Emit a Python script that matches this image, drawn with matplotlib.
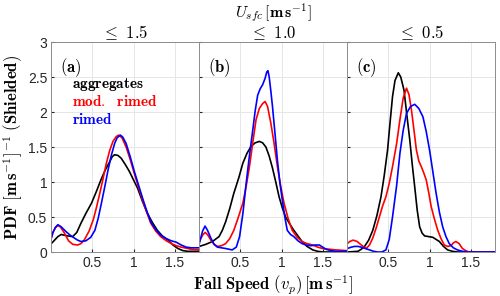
import numpy as np
import matplotlib
matplotlib.use('Agg')
import matplotlib.pyplot as plt

plt.rcParams['mathtext.fontset'] = 'cm'
plt.rcParams['font.family'] = 'Liberation Sans'

# panel (a)  U_sfc <= 1.5
a_agg_x = [0.0, 0.04, 0.08, 0.12, 0.16, 0.2, 0.26, 0.31, 0.36, 0.42, 0.49, 0.55, 0.61, 0.66, 0.71, 0.74, 0.77, 0.81, 0.85, 0.9, 0.95, 1.0, 1.05, 1.11, 1.17, 1.23, 1.29, 1.35, 1.42, 1.48, 1.54, 1.6, 1.66, 1.8]
a_agg_y = [0.12, 0.17, 0.22, 0.25, 0.24, 0.23, 0.22, 0.28, 0.41, 0.55, 0.70, 0.87, 1.05, 1.18, 1.29, 1.36, 1.39, 1.38, 1.34, 1.25, 1.15, 1.03, 0.91, 0.72, 0.55, 0.42, 0.31, 0.23, 0.17, 0.10, 0.05, 0.02, 0.01, 0.01]
a_mod_x = [0.0, 0.02, 0.05, 0.08, 0.11, 0.16, 0.21, 0.26, 0.32, 0.36, 0.40, 0.46, 0.51, 0.55, 0.59, 0.63, 0.67, 0.71, 0.75, 0.79, 0.82, 0.86, 0.91, 0.96, 1.01, 1.06, 1.11, 1.16, 1.21, 1.27, 1.33, 1.4, 1.46, 1.52, 1.58, 1.70, 1.8]
a_mod_y = [0.2, 0.28, 0.35, 0.38, 0.36, 0.27, 0.16, 0.11, 0.10, 0.12, 0.17, 0.30, 0.46, 0.64, 0.84, 1.05, 1.27, 1.45, 1.58, 1.65, 1.67, 1.63, 1.50, 1.32, 1.12, 0.93, 0.74, 0.57, 0.41, 0.30, 0.22, 0.16, 0.12, 0.09, 0.07, 0.04, 0.03]
a_rim_x = [0.0, 0.02, 0.05, 0.08, 0.12, 0.18, 0.23, 0.28, 0.32, 0.36, 0.42, 0.48, 0.53, 0.57, 0.61, 0.65, 0.69, 0.73, 0.77, 0.80, 0.84, 0.87, 0.91, 0.96, 1.01, 1.06, 1.11, 1.16, 1.21, 1.27, 1.33, 1.4, 1.46, 1.52, 1.58, 1.64, 1.70, 1.8]
a_rim_y = [0.2, 0.28, 0.35, 0.39, 0.36, 0.29, 0.24, 0.20, 0.17, 0.15, 0.16, 0.21, 0.31, 0.48, 0.70, 0.93, 1.17, 1.38, 1.55, 1.63, 1.67, 1.64, 1.55, 1.36, 1.15, 0.96, 0.77, 0.59, 0.43, 0.32, 0.24, 0.19, 0.16, 0.14, 0.10, 0.07, 0.06, 0.06]

# panel (b)  U_sfc <= 1.0
b_agg_x = [0.0, 0.08, 0.16, 0.24, 0.28, 0.32, 0.37, 0.42, 0.48, 0.53, 0.58, 0.63, 0.68, 0.73, 0.77, 0.81, 0.85, 0.89, 0.93, 0.97, 1.01, 1.05, 1.1, 1.15, 1.2, 1.25, 1.31, 1.38, 1.44, 1.5, 1.8]
b_agg_y = [0.08, 0.11, 0.15, 0.22, 0.31, 0.43, 0.62, 0.84, 1.06, 1.27, 1.41, 1.51, 1.56, 1.58, 1.56, 1.50, 1.37, 1.20, 1.00, 0.79, 0.63, 0.50, 0.40, 0.31, 0.23, 0.15, 0.08, 0.03, 0.01, 0.0, 0.0]
b_mod_x = [0.0, 0.04, 0.07, 0.1, 0.14, 0.18, 0.22, 0.27, 0.32, 0.37, 0.42, 0.47, 0.53, 0.57, 0.61, 0.65, 0.69, 0.73, 0.77, 0.80, 0.83, 0.87, 0.91, 0.95, 0.99, 1.03, 1.08, 1.13, 1.19, 1.25, 1.31, 1.38, 1.44, 1.50, 1.58, 1.66, 1.8]
b_mod_y = [0.15, 0.24, 0.28, 0.25, 0.17, 0.11, 0.08, 0.09, 0.12, 0.19, 0.31, 0.48, 0.70, 0.94, 1.22, 1.56, 1.89, 2.05, 2.12, 2.15, 2.08, 1.84, 1.55, 1.22, 0.94, 0.70, 0.48, 0.31, 0.21, 0.15, 0.12, 0.10, 0.07, 0.05, 0.04, 0.03, 0.02]
b_rim_x = [0.0, 0.04, 0.07, 0.1, 0.14, 0.18, 0.22, 0.27, 0.32, 0.36, 0.40, 0.45, 0.49, 0.53, 0.57, 0.61, 0.65, 0.68, 0.71, 0.74, 0.77, 0.80, 0.82, 0.835, 0.85, 0.87, 0.89, 0.92, 0.95, 0.98, 1.01, 1.04, 1.07, 1.11, 1.15, 1.2, 1.25, 1.3, 1.36, 1.41, 1.46, 1.5, 1.54, 1.6, 1.66, 1.8]
b_rim_y = [0.12, 0.30, 0.37, 0.31, 0.20, 0.11, 0.07, 0.06, 0.05, 0.04, 0.03, 0.07, 0.22, 0.55, 0.98, 1.38, 1.74, 2.02, 2.24, 2.33, 2.39, 2.48, 2.57, 2.59, 2.50, 2.30, 2.08, 1.70, 1.31, 0.99, 0.74, 0.50, 0.31, 0.25, 0.22, 0.16, 0.12, 0.10, 0.09, 0.10, 0.10, 0.07, 0.04, 0.02, 0.01, 0.01]

# panel (c)  U_sfc <= 0.5
c_agg_x = [0.0, 0.13, 0.17, 0.21, 0.26, 0.31, 0.36, 0.41, 0.45, 0.49, 0.52, 0.55, 0.58, 0.62, 0.65, 0.69, 0.72, 0.76, 0.79, 0.82, 0.85, 0.88, 0.91, 0.94, 0.99, 1.04, 1.08, 1.12, 1.17, 1.22, 1.28, 1.34, 1.8]
c_agg_y = [0.0, 0.01, 0.04, 0.08, 0.17, 0.31, 0.52, 0.79, 1.10, 1.46, 1.85, 2.22, 2.45, 2.56, 2.50, 2.31, 2.00, 1.60, 1.25, 0.93, 0.60, 0.36, 0.27, 0.23, 0.22, 0.21, 0.18, 0.15, 0.08, 0.03, 0.01, 0.0, 0.0]
c_mod_x = [0.0, 0.03, 0.07, 0.12, 0.17, 0.23, 0.27, 0.31, 0.35, 0.39, 0.43, 0.47, 0.51, 0.55, 0.6, 0.64, 0.68, 0.72, 0.75, 0.78, 0.81, 0.84, 0.87, 0.90, 0.93, 0.96, 0.99, 1.02, 1.06, 1.10, 1.14, 1.18, 1.22, 1.26, 1.29, 1.32, 1.36, 1.40, 1.44, 1.48, 1.8]
c_mod_y = [0.12, 0.15, 0.17, 0.15, 0.10, 0.05, 0.10, 0.20, 0.34, 0.50, 0.66, 0.79, 0.98, 1.22, 1.55, 1.89, 2.20, 2.34, 2.25, 2.03, 1.75, 1.46, 1.30, 1.22, 1.13, 1.03, 0.85, 0.65, 0.47, 0.31, 0.19, 0.10, 0.08, 0.09, 0.13, 0.15, 0.12, 0.05, 0.02, 0.0, 0.0]
c_rim_x = [0.0, 0.05, 0.09, 0.13, 0.17, 0.22, 0.27, 0.32, 0.37, 0.42, 0.47, 0.51, 0.55, 0.6, 0.64, 0.68, 0.72, 0.77, 0.82, 0.87, 0.92, 0.96, 1.00, 1.04, 1.08, 1.12, 1.16, 1.2, 1.24, 1.29, 1.34, 1.4, 1.46, 1.8]
c_rim_y = [0.05, 0.07, 0.08, 0.08, 0.07, 0.05, 0.03, 0.01, 0.0, 0.0, 0.03, 0.18, 0.50, 0.95, 1.41, 1.74, 1.98, 2.08, 2.11, 2.05, 1.93, 1.72, 1.46, 1.15, 0.84, 0.57, 0.36, 0.22, 0.12, 0.06, 0.03, 0.01, 0.0, 0.0]

titles = [r'$\leq\ \mathbf{1.5}$', r'$\leq\ \mathbf{1.0}$', r'$\leq\ \mathbf{0.5}$']
labels = ['(a)', '(b)', '(c)']
series = [
    [(a_agg_x, a_agg_y), (a_mod_x, a_mod_y), (a_rim_x, a_rim_y)],
    [(b_agg_x, b_agg_y), (b_mod_x, b_mod_y), (b_rim_x, b_rim_y)],
    [(c_agg_x, c_agg_y), (c_mod_x, c_mod_y), (c_rim_x, c_rim_y)],
]
colors = ['black', 'red', 'blue']
names = ['aggregates', r'mod.\ \ rimed', 'rimed']

fig = plt.figure(figsize=(5, 2.96), dpi=100)
left, bot, w, h = 0.1026, 0.1486, 0.296, 0.7095
axes = []
for i in range(3):
    ax = fig.add_axes([left + i * w, bot, w, h])
    axes.append(ax)
    for (xs, ys), c in zip(series[i], colors):
        ax.plot(xs, ys, color=c, lw=1.2)
    ax.set_xlim(0, 1.8)
    ax.set_ylim(0, 3)
    ax.set_xticks([0.5, 1, 1.5])
    ax.set_xticklabels(['0.5', '1', '1.5'])
    ax.set_yticks(np.arange(0, 3.01, 0.5))
    if i == 0:
        ax.set_yticklabels(['0', '0.5', '1', '1.5', '2', '2.5', '3'])
    else:
        ax.set_yticklabels([])
    ax.grid(True, color='#e6e6e6', lw=0.7)
    ax.set_axisbelow(True)
    ax.tick_params(direction='in', length=2.5, labelsize=10, colors='#262626', pad=3)
    for s in ax.spines.values():
        s.set_color('#8c8c8c')
        s.set_linewidth(0.7)
    ax.text(0.06, 0.93, r'$\mathbf{' + labels[i] + '}$', transform=ax.transAxes,
            fontsize=12, va='top', ha='left')
    ax.set_title(titles[i], fontsize=12, pad=3)

for k in range(3):
    axes[0].text(0.14, 0.80 - k * 0.085, r'$\mathbf{' + names[k] + '}$', color=colors[k],
                 transform=axes[0].transAxes, fontsize=11, va='center', ha='left')

fig.text(0.546, 0.955, r'$U_{sfc}\,[\mathbf{m\,s^{-1}}]$', ha='center', va='center', fontsize=11.5)
axes[1].set_xlabel(r'$\mathbf{Fall\ Speed}\ \mathbf{(}v_p\mathbf{)}\,[\mathbf{m\,s^{-1}}]$',
                   fontsize=12, labelpad=2)
axes[0].set_ylabel(r'$\mathbf{PDF}\ [\mathbf{m\,s^{-1}}]^{-1}\ \mathbf{(Shielded)}$',
                   fontsize=12, labelpad=2)

fig.savefig('out.png', dpi=100)
